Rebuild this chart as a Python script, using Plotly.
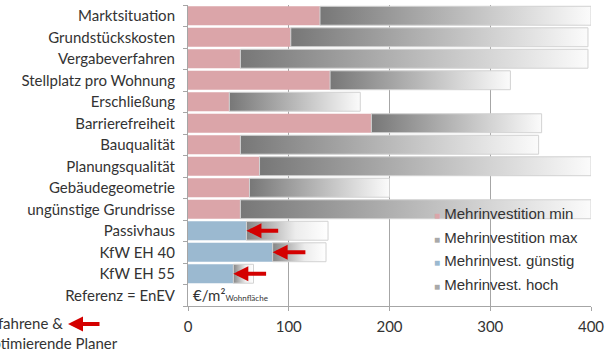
import plotly.graph_objects as go

categories = ["Marktsituation", "Grundstückskosten", "Vergabeverfahren", "Stellplatz pro Wohnung",
              "Erschließung", "Barrierefreiheit", "Bauqualität", "Planungsqualität",
              "Gebäudegeometrie", "ungünstige Grundrisse", "Passivhaus", "KfW EH 40",
              "KfW EH 55", "Referenz = EnEV"]
min_vals = [131, 102, 52, 141, 41, 182, 52, 71, 61, 52]
max_vals = [400, 397, 397, 320, 171, 351, 348, 400, 200, 400]
energy_cats = ["Passivhaus", "KfW EH 40", "KfW EH 55"]
guenstig_vals = [58, 84, 45]
hoch_vals = [139, 137, 65]
arrow_start_vals = [91, 118, 79]
x_ticks = [0, 100, 200, 300, 400]
legend_names = ["Mehrinvestition min", "Mehrinvestition max", "Mehrinvest. günstig", "Mehrinvest. hoch"]

PINK = "#dba5a9"
BLUE = "#9bb9d0"
GRAYSYM = "#a9a9a9"
FONT = "Lato"
H = 0.44  # half bar thickness

ML, MR, MT, MB = 188, 17, 5, 51
W, HT = 608, 357
plot_w = W - ML - MR
plot_h = HT - MT - MB

ypos = {c: i for i, c in enumerate(categories)}
fig = go.Figure()

fig.add_trace(go.Bar(
    y=[ypos[c] for c in categories[:len(min_vals)]], x=min_vals, orientation="h",
    marker=dict(color=PINK, line=dict(width=0)), width=2 * H, showlegend=False))

for k, (lo, hi) in enumerate(zip(min_vals, max_vals)):
    y = ypos[categories[k]]
    fig.add_trace(go.Scatter(
        x=[lo, hi, hi, lo, lo], y=[y - H, y - H, y + H, y + H, y - H],
        mode="lines", fill="toself", line=dict(color="#d2d2d2", width=1),
        fillgradient=dict(type="horizontal", start=lo, stop=hi,
                          colorscale=[[0, "#777777"], [1, "#fbfbfb"]]),
        showlegend=False, hoverinfo="skip"))

fig.add_trace(go.Bar(
    y=[ypos[c] for c in energy_cats], x=guenstig_vals, orientation="h",
    marker=dict(color=BLUE, line=dict(width=0)), width=2 * H, showlegend=False))

for k, (lo, hi) in enumerate(zip(guenstig_vals, hoch_vals)):
    y = ypos[energy_cats[k]]
    fig.add_trace(go.Scatter(
        x=[lo, hi, hi, lo, lo], y=[y - H, y - H, y + H, y + H, y - H],
        mode="lines", fill="toself", line=dict(color="#d2d2d2", width=1),
        fillgradient=dict(type="horizontal", start=lo, stop=hi,
                          colorscale=[[0, "#858585"], [0.6, "#ececec"], [1, "#ffffff"]]),
        showlegend=False, hoverinfo="skip"))

# legend entries (small square symbols placed inline with the text)
for k, (name, col) in enumerate(zip(legend_names, [PINK, GRAYSYM, BLUE, GRAYSYM])):
    fig.add_trace(go.Scatter(
        x=[None], y=[None], mode="markers",
        marker=dict(color="rgba(0,0,0,0)", size=1, line=dict(width=0)),
        legendgroup=f"g{k}",
        name=f"<span style='color:{col};font-size:10px'>■</span> {name}"))

for c, head, tail in zip(energy_cats, guenstig_vals, arrow_start_vals):
    fig.add_annotation(x=head, y=ypos[c], ax=tail, ay=ypos[c], axref="x", ayref="y",
                       xref="x", yref="y", text="", showarrow=True,
                       arrowhead=2, arrowsize=0.75, arrowwidth=4, arrowcolor="#d40000")

fig.add_annotation(x=3, y=ypos["Referenz = EnEV"], xref="x", yref="y", xanchor="left",
                   text="€/m²<span style='font-size:8px'>Wohnfläche</span>",
                   showarrow=False, font=dict(family=FONT, size=15, color="#333333"))

# text outside the chart at bottom left (clipped at page edge, as in the original), placed in pixels
def px_x(px):
    return (px - ML) / plot_w

def px_y(py):
    return (HT - MB - py) / plot_h

fig.add_annotation(x=px_x(65), y=px_y(323), xref="paper", yref="paper", text="Erfahrene &",
                   showarrow=False, xanchor="right", yanchor="middle",
                   font=dict(family=FONT, size=15, color="#333333"))
fig.add_annotation(x=px_x(120), y=px_y(343), xref="paper", yref="paper", text="optimierende Planer",
                   showarrow=False, xanchor="right", yanchor="middle",
                   font=dict(family=FONT, size=15, color="#333333"))
fig.add_annotation(x=px_x(68), y=px_y(324), xref="paper", yref="paper",
                   ax=33, ay=0, text="", showarrow=True, arrowhead=2, arrowsize=0.75,
                   arrowwidth=4, arrowcolor="#d40000")

fig.update_layout(
    width=W, height=HT,
    margin=dict(l=ML, r=MR, t=MT, b=MB, autoexpand=False),
    paper_bgcolor="white", plot_bgcolor="white",
    barmode="overlay",
    font=dict(family=FONT, size=13, color="#333333"),
    legend=dict(x=px_x(394), y=px_y(300), xanchor="left", yanchor="bottom",
                bgcolor="rgba(0,0,0,0)", traceorder="grouped", tracegroupgap=1,
                font=dict(family="Liberation Sans", size=15, color="#333333"),
                itemwidth=30),
    showlegend=True,
)
fig.update_xaxes(range=[0, 400], tickvals=x_ticks, showgrid=True, gridcolor="#a6a6a6",
                 gridwidth=1, zeroline=False, showline=True, linecolor="#a6a6a6",
                 ticks="outside", ticklen=4, tickcolor="#a6a6a6", automargin=False,
                 ticklabelstandoff=3,
                 tickfont=dict(family=FONT, size=15, color="#333333"), fixedrange=True)
fig.update_yaxes(range=[len(categories) - 0.5, -0.5], tickvals=list(range(len(categories))),
                 ticktext=categories, showgrid=False, zeroline=False, showline=True,
                 linecolor="#a6a6a6", ticks="", ticklabelstandoff=9, automargin=False,
                 tickfont=dict(family=FONT, size=15, color="#333333"), fixedrange=True,
                 minor=dict(tickvals=[i + 0.5 for i in range(-1, len(categories))],
                            ticks="outside", ticklen=4, tickcolor="#a6a6a6", showgrid=False))

fig.write_html("out.html", config={"displayModeBar": False},
               post_script="document.body.style.margin='0';document.body.style.overflow='hidden';")
